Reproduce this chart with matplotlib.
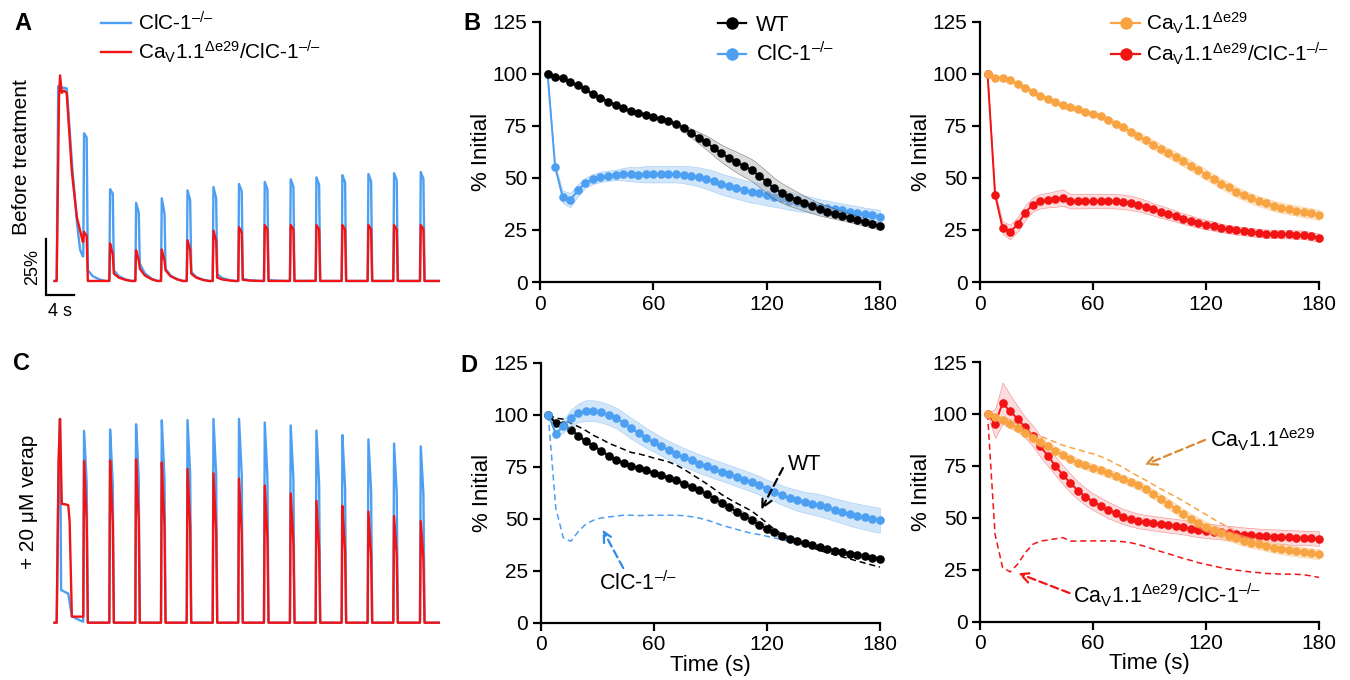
import numpy as np
import matplotlib
matplotlib.use('Agg')
import matplotlib.pyplot as plt
from matplotlib.lines import Line2D

plt.rcParams['font.family'] = ['Liberation Sans', 'DejaVu Sans']
plt.rcParams['mathtext.fontset'] = 'custom'
plt.rcParams['mathtext.rm'] = 'Liberation Sans'
plt.rcParams['mathtext.it'] = 'Liberation Sans:italic'
plt.rcParams['mathtext.bf'] = 'Liberation Sans:bold'

BLUE = '#4d9ff2'
RED = '#f21414'
ORANGE = '#f9a442'
BLACK = '#000000'

LBL_CLC = 'ClC-1$^{\u2013/\u2013}$'
LBL_CAV = 'Ca$_\\mathrm{V}$1.1$^{\\Delta\\mathrm{e29}}$'
LBL_CAVCLC = LBL_CAV + '/ClC-1$^{\u2013/\u2013}$'

# time points (s) for the fatigue curves
time = np.arange(4, 181, 4)

# ---- B: before treatment, % initial force ----
b_wt = [100, 98.5, 98, 96, 94.4, 92.5, 90.2, 88.5, 86.5, 85, 83.5, 82, 81.3, 80.4, 79.3,
        78.4, 77.4, 75.9, 73.9, 71.6, 69.3, 67, 64.4, 61.8, 59.6, 57.6, 55.7, 53.8, 51, 48,
        45, 42.8, 41, 39.4, 37.8, 36.3, 34.9, 33.8, 32.8, 31.8, 30.8, 29.8, 28.8, 27.8, 26.9]
b_wt_sem = [0.5, 0.8, 0.8, 0.8, 0.8, 0.8, 0.8, 0.8, 0.8, 0.8, 0.8, 0.8, 0.8, 0.8, 0.8,
            0.8, 0.9, 1.0, 1.5, 2.2, 2.8, 3.3, 3.8, 4.2, 4.6, 5, 5.2, 5.3, 5.3, 5.2,
            5, 4.7, 4.4, 4, 3.6, 3.3, 3, 2.7, 2.5, 2.3, 2.1, 2, 1.9, 1.8, 1.8]
b_clc = [100, 55.3, 40.9, 39.3, 44, 47.6, 49.4, 50.5, 51, 51.4, 51.8, 51.8, 51.6, 51.8, 51.8,
         51.8, 51.8, 51.8, 51.6, 51.1, 50.5, 49.5, 48.4, 47, 46, 45, 44, 43.1, 42.5, 41.7,
         40.9, 40.1, 39, 38.3, 37.6, 36.9, 36.2, 35.6, 35, 34.4, 33.8, 33.2, 32.5, 32, 31.4]
b_clc_sem = [0.5, 1, 3, 3.5, 3, 2.5, 2.5, 2.5, 2.5, 2.5, 3, 3.5, 3.5, 4, 4,
             4, 4, 4, 4.2, 4.4, 4.6, 4.8, 5, 5, 5, 5, 5, 5, 5, 5,
             4.8, 4.6, 4.4, 4.2, 4, 3.8, 3.6, 3.5, 3.4, 3.3, 3.3, 3.2, 3.2, 3.2, 3.2]
b_cav = [100, 98, 98.2, 97, 95, 93.3, 91.3, 89.4, 87.8, 86.4, 84.9, 83.8, 82.9, 81.7, 80.8,
         79.5, 78, 76.1, 74.2, 72.1, 70, 68.1, 66, 63.9, 62, 60.1, 58, 55.9, 53.7, 51.6,
         49.4, 47.3, 45.4, 43.4, 41.7, 40.1, 38.8, 37.7, 36.5, 35.7, 34.9, 34.3, 33.5, 32.9, 32.1]
b_cav_sem = [0.5, 1, 1, 1, 1, 1, 1, 1, 1, 1, 1.2, 1.2, 1.2, 1.2, 1.2,
             1.3, 1.4, 1.5, 1.6, 1.8, 2, 2, 2.2, 2.3, 2.4, 2.5, 2.5, 2.5, 2.5, 2.5,
             2.5, 2.5, 2.5, 2.5, 2.5, 2.5, 2.5, 2.5, 2.5, 2.5, 2.5, 2.5, 2.5, 2.5, 2.5]
b_cavclc = [100, 42, 26.1, 24, 27.7, 33.2, 37.2, 38.8, 39.3, 39.9, 40.5, 38.8, 38.8, 38.9, 38.9,
            38.9, 38.9, 38.8, 38.5, 38, 37.2, 36.1, 34.9, 33.8, 32.7, 31.6, 30.4, 29.5, 28.4, 27.6,
            26.8, 26, 25.3, 24.8, 24.4, 23.9, 23.6, 23.2, 23.1, 22.9, 22.9, 22.8, 22.6, 22, 21.3]
b_cavclc_sem = [0.5, 1, 3, 3.5, 3.5, 3.5, 3.5, 3.5, 3.5, 3.8, 4, 3.5, 3.5, 3.5, 3.5,
                3.5, 3.5, 3.5, 3.5, 3.5, 3.3, 3.2, 3, 3, 2.8, 2.7, 2.6, 2.5, 2.4, 2.3,
                2.2, 2, 2, 2, 2, 2, 2, 2, 2, 2, 2, 2, 2, 2, 2]

# ---- D: + 20 uM verapamil ----
d_wt = [100, 96.2, 95, 93, 90, 87.3, 85, 82.9, 80.4, 78.5, 76.9, 75.6, 74.5, 73.4, 72.1,
        71, 69.9, 68.6, 67, 65.4, 63.8, 61.9, 59.8, 57.7, 55.6, 53.5, 51.6, 49.4, 47.3, 45.4,
        43.6, 42, 40.5, 39.3, 38.3, 37.3, 36.5, 35.6, 34.8, 34.1, 33.3, 32.7, 32.1, 31.4, 30.8]
d_wt_sem = [0.5, 0.8, 0.8, 0.8, 0.8, 0.8, 0.8, 0.8, 0.8, 0.8, 0.8, 0.8, 0.8, 0.8, 0.8,
            0.8, 0.8, 0.9, 1, 1.1, 1.2, 1.3, 1.5, 1.6, 1.7, 1.7, 1.7, 1.7, 1.6, 1.5,
            1.4, 1.3, 1.2, 1.1, 1, 1, 1, 1, 1, 1, 1, 1, 1, 1, 1]
d_clc = [100, 91, 94.6, 98.6, 101, 102.1, 102.1, 101.4, 100.2, 98.6, 96.2, 93.6, 91.3, 88.9, 87,
         84.9, 83, 81.3, 79.6, 78.2, 76.6, 75.3, 74, 72.8, 71.5, 70.2, 68.9, 67.6, 66.2, 64.4,
         63, 61.5, 60.1, 59, 58, 57.4, 56.6, 55.6, 54.5, 53.5, 52.4, 51.6, 50.8, 50, 49.4]
d_clc_sem = [0.5, 1.5, 3, 4, 4.5, 5, 5, 5, 5, 5, 5, 5, 5, 4.8, 4.6,
             4.5, 4.5, 4.5, 4.5, 4.5, 4.5, 4.5, 4.5, 4.5, 4.5, 4.5, 4.5, 4.5, 4.5, 4.5,
             4.6, 4.7, 4.8, 5, 5, 5.2, 5.3, 5.4, 5.5, 5.6, 5.7, 5.8, 5.9, 6, 6]
d_cav = [100, 98.5, 97.2, 95.3, 93.2, 90.8, 88.4, 86.3, 84.4, 82.4, 80.3, 78.4, 76.6, 75.2, 73.9,
         72.8, 71.5, 70.2, 68.8, 67.2, 65.6, 63.8, 61.5, 59.1, 56.7, 54.3, 51.9, 49.6, 47.7, 45.8,
         44.2, 42.6, 41.3, 40.2, 39, 38.1, 37.3, 36.5, 35.7, 35, 34.4, 33.9, 33.4, 32.9, 32.5]
d_cav_sem = [0.5, 1, 1.5, 2, 2, 2, 2, 2, 2, 2, 2, 2, 2, 2, 2,
             2, 2, 2, 2, 2, 2, 2, 2.2, 2.3, 2.4, 2.5, 2.5, 2.5, 2.5, 2.5,
             2.5, 2.5, 2.5, 2.5, 2.5, 2.5, 2.5, 2.5, 2.5, 2.5, 2.5, 2.5, 2.5, 2.5, 2.5]
d_cavclc = [100, 95.3, 105.2, 101.2, 97.7, 93.5, 89.5, 84.4, 79.9, 75, 70.7, 66.7, 63.1, 60.2, 57.8,
            55.8, 53.8, 52.2, 50.6, 49.5, 48.5, 47.9, 47.4, 46.9, 46.4, 46, 45.5, 44.8, 44.2, 43.7,
            43.4, 43.1, 42.6, 42.3, 41.9, 41.6, 41.3, 41.1, 41, 40.8, 40.6, 40.5, 40.3, 40.2, 40]
d_cavclc_sem = [0.5, 7, 10, 8, 6, 5, 5, 5, 5, 4.5, 4.5, 4.5, 4.3, 4.2, 4,
                4, 4, 3.8, 3.7, 3.6, 3.5, 3.5, 3.5, 3.5, 3.5, 3.5, 3.5, 3.5, 3.5, 3.5,
                3.5, 3.5, 3.5, 3.5, 3.5, 3.5, 3.5, 3.5, 3.5, 3.5, 3.5, 3.5, 3.5, 3.5, 3.5]

# ---- A / C: force traces (% of scale), 15 stimulations ----
onsets = [0, 3.69, 7.31, 10.92, 14.49, 18.06, 21.67, 25.22, 28.79, 32.40,
          35.97, 39.58, 43.19, 46.75, 50.46]

# first (long) contraction as time/value keypoints, relative to the first onset
a_blue_first_t = [0, 0.2, 0.5, 1.39, 2.08, 2.78, 3.24, 3.6]
a_blue_first_v = [0, 87, 86.5, 86, 54, 27, 14, 11]
a_red_first_t = [0, 0.3, 0.46, 0.7, 1.0, 1.39, 2.08, 2.78, 3.24, 3.6]
a_red_first_v = [0, 80, 92, 84, 85, 84, 49.5, 28.7, 22.8, 17.5]
# later contractions: peak, end of plateau, residual after relaxation
a_blue_peak = [66, 41, 35, 37, 40.6, 42, 43.3, 44.3, 45.4, 46.3, 47.2, 47.8, 48.2, 48.7]
a_blue_shoulder = [64, 39, 30.5, 30.5, 36, 37, 40, 41, 42, 43, 44, 44.5, 45, 45.5]
a_blue_tail = [4.8, 4.8, 7.7, 5.5, 4, 3, 1, 0.5, 0, 0, 0, 0, 0, 0]
a_red_peak = [22, 16.8, 13.8, 14.1, 18.3, 22.5, 24, 25, 25, 25, 25, 25, 25, 25]
a_red_shoulder = [20, 12, 9.2, 9.2, 13.8, 18, 21.5, 23, 23, 23, 23, 23, 23, 23]
a_red_tail = [0, 3.3, 5.5, 4.8, 3.3, 1.5, 0.5, 0, 0, 0, 0, 0, 0, 0]

c_blue_first_t = [0, 0.25, 0.46, 0.6, 1.6, 1.75, 2.1, 2.6, 3.3, 3.6]
c_blue_first_v = [0, 70, 91.7, 14.6, 13, 10, 3, 2, 1, 0.5]
c_red_first_t = [0, 0.25, 0.46, 0.7, 1.0, 1.6, 1.8, 2.1, 3.5]
c_red_first_v = [0, 70, 91.7, 53, 53, 52.5, 45, 2.7, 2.7]
c_blue_peak = [86.3, 86.7, 89.2, 90.7, 91.2, 91.2, 91.2, 90.0, 88.2, 86.3, 83.8, 82.3, 80.5, 79.3]
c_blue_shoulder = [62, 62, 64, 65, 66, 66, 66, 65, 64, 62, 60, 59, 58, 57]
c_red_peak = [72.9, 72.9, 73.4, 71.9, 69.4, 67.0, 64.5, 61.8, 57.8, 54.8, 52.2, 49.9, 48.1, 45.8]
c_red_shoulder = [45, 45, 45, 44, 43, 41, 40, 38, 36, 34, 32, 31, 30, 28]


def build_trace(first_t, first_v, peaks, shoulders, tails=None):
    ts = list(first_t)
    vs = list(first_v)
    if tails is None:
        tails = [0] * len(peaks)
    for on, p, s, tl in zip(onsets[1:], peaks, shoulders, tails):
        ts += [on, on + 0.1, on + 0.48, on + 0.62, on + 1.3, on + 2.2, on + 3.0]
        vs += [vs[-1], p, s, tl, tl * 0.45, tl * 0.15, 0]
    x = np.linspace(-0.3, onsets[-1] + 3.0, 4000)
    return x, np.interp(x, ts, vs)


fig = plt.figure(figsize=(13.5, 6.8), dpi=100)


def fx(px):
    return px / 1350


def fy(py):
    return 1 - py / 680


# ---- trace panels ----
ax_a = fig.add_axes([fx(45), fy(300), fx(395), 240 / 680])
ax_c = fig.add_axes([fx(45), fy(640), fx(395), 240 / 680])
for ax in (ax_a, ax_c):
    ax.axis('off')
    ax.set_xlim(-1.625, 53.24)

ax_a.set_ylim(-8.5, 98.66)
ax_c.set_ylim(-7.72, 99.42)

xb, yb = build_trace(a_blue_first_t, a_blue_first_v, a_blue_peak, a_blue_shoulder, a_blue_tail)
xr, yr = build_trace(a_red_first_t, a_red_first_v, a_red_peak, a_red_shoulder, a_red_tail)
ax_a.plot(xb, yb, color=BLUE, lw=1.7, label=LBL_CLC)
ax_a.plot(xr, yr, color=RED, lw=1.7, label=LBL_CAVCLC)

xb, yb = build_trace(c_blue_first_t, c_blue_first_v, c_blue_peak, c_blue_shoulder)
xr, yr = build_trace(c_red_first_t, c_red_first_v, c_red_peak, c_red_shoulder)
ax_c.plot(xb, yb, color=BLUE, lw=1.7)
ax_c.plot(xr, yr, color=RED, lw=1.7)

# scale bar 4 s / 25 %
ax_a.plot([-1.5, -1.5, 2.4], [18.75, -6.25, -6.25], color='black', lw=1.6,
          clip_on=False, solid_joinstyle='miter')
ax_a.text(-3.4, 6.25, '25%', rotation=90, ha='center', va='center', fontsize=13)
ax_a.text(0.4, -13.5, '4 s', ha='center', va='center', fontsize=13, clip_on=False)

ax_a.legend(loc='upper left', bbox_to_anchor=(fx(101), fy(11)), bbox_transform=fig.transFigure,
            frameon=False, fontsize=15, handlelength=1.45, handletextpad=0.35,
            labelspacing=0.2, borderpad=0, borderaxespad=0)

fig.text(fx(22), fy(157), 'Before treatment', rotation=90, ha='center', va='center', fontsize=15)
fig.text(fx(28), fy(502), '+ 20 \u03bcM verap', rotation=90, ha='center', va='center', fontsize=15)

# ---- fatigue panels ----
ax_b1 = fig.add_axes([fx(540), fy(282), fx(340), 260.3 / 680])
ax_b2 = fig.add_axes([fx(980), fy(282), fx(339), 260.3 / 680])
ax_d1 = fig.add_axes([fx(540.7), fy(623), fx(339.3), 260 / 680])
ax_d2 = fig.add_axes([fx(980), fy(621.7), fx(339), 259.7 / 680])


def style(ax, xlabel=False):
    ax.set_xlim(0, 180)
    ax.set_ylim(0, 125)
    ax.set_xticks([0, 60, 120, 180])
    ax.set_yticks([0, 25, 50, 75, 100, 125])
    for s in ('top', 'right'):
        ax.spines[s].set_visible(False)
    for s in ('left', 'bottom'):
        ax.spines[s].set_linewidth(1.6)
    ax.tick_params(direction='out', length=6, width=1.6, labelsize=15, pad=3)
    ax.set_ylabel('% Initial', fontsize=16, labelpad=0)
    if xlabel:
        ax.set_xlabel('Time (s)', fontsize=16, labelpad=0)


def curve(ax, y, sem, color, band, label=None, z=3):
    y = np.asarray(y)
    sem = np.asarray(sem)
    ax.fill_between(time, y - sem, y + sem, facecolor=band, edgecolor=color,
                    linewidth=0.4, alpha=0.45, zorder=z - 1, clip_on=False)
    ax.plot(time, y, color=color, lw=1.4, marker='o', markersize=6.2, markeredgewidth=0,
            label=label, zorder=z, clip_on=False)


for ax in (ax_b1, ax_b2):
    style(ax)
for ax in (ax_d1, ax_d2):
    style(ax, xlabel=True)

curve(ax_b1, b_clc, b_clc_sem, BLUE, '#9cc8f5', z=3)
curve(ax_b1, b_wt, b_wt_sem, BLACK, '#b0b0b0', z=5)
curve(ax_b2, b_cav, b_cav_sem, ORANGE, '#fbcf9c', z=5)
curve(ax_b2, b_cavclc, b_cavclc_sem, RED, '#f7b0b0', z=3)

# D: dashed lines repeat the untreated means
ax_d1.plot(time, b_wt, color=BLACK, lw=1.1, ls=(0, (4, 2.5)), zorder=2)
ax_d1.plot(time, b_clc, color=BLUE, lw=1.1, ls=(0, (4, 2.5)), zorder=2)
curve(ax_d1, d_wt, d_wt_sem, BLACK, '#b0b0b0', z=4)
curve(ax_d1, d_clc, d_clc_sem, BLUE, '#9cc8f5', z=6)

ax_d2.plot(time, b_cav, color=ORANGE, lw=1.1, ls=(0, (4, 2.5)), zorder=2)
ax_d2.plot(time, b_cavclc, color=RED, lw=1.1, ls=(0, (4, 2.5)), zorder=2)
curve(ax_d2, d_cavclc, d_cavclc_sem, RED, '#f7b0b0', z=4)
curve(ax_d2, d_cav, d_cav_sem, ORANGE, '#fbcf9c', z=6)

# legends for B
h_wt = Line2D([], [], color=BLACK, lw=1.6, marker='o', markersize=9, markeredgewidth=0)
h_clc = Line2D([], [], color=BLUE, lw=1.6, marker='o', markersize=9, markeredgewidth=0)
h_cav = Line2D([], [], color=ORANGE, lw=1.6, marker='o', markersize=9, markeredgewidth=0)
h_cavclc = Line2D([], [], color=RED, lw=1.6, marker='o', markersize=9, markeredgewidth=0)
ax_b1.legend([h_wt, h_clc], ['WT', LBL_CLC], loc='upper left',
             bbox_to_anchor=(fx(718), fy(15)), bbox_transform=fig.transFigure,
             frameon=False, fontsize=15.5, handlelength=1.3, handletextpad=0.45,
             labelspacing=0.3, borderpad=0, borderaxespad=0)
ax_b2.legend([h_cav, h_cavclc], [LBL_CAV, LBL_CAVCLC], loc='upper left',
             bbox_to_anchor=(fx(1111), fy(11)), bbox_transform=fig.transFigure,
             frameon=False, fontsize=15, handlelength=1.4, handletextpad=0.3,
             labelspacing=0.2, borderpad=0, borderaxespad=0)

# annotations in D
def dashed_arrow(ax, xy, xytext, color):
    ax.annotate('', xy=xy, xytext=xytext,
                arrowprops=dict(arrowstyle='->', color=color, lw=1.6,
                                linestyle=(0, (3.5, 2)), mutation_scale=18,
                                shrinkA=0, shrinkB=0), zorder=8)


dashed_arrow(ax_d1, (117, 54.5), (128.5, 74.5), BLACK)
ax_d1.text(140.2, 76, 'WT', ha='center', va='center', fontsize=15.5)
dashed_arrow(ax_d1, (32.8, 44.9), (43.8, 26.4), '#2f8ae8')
ax_d1.text(51.6, 19.2, LBL_CLC, ha='center', va='center', fontsize=15.5)

dashed_arrow(ax_d2, (87.5, 75.5), (119.5, 87.5), '#d98a30')
ax_d2.text(122.1, 87.4, LBL_CAV, ha='left', va='center', fontsize=15.5)
dashed_arrow(ax_d2, (20.3, 23.3), (47.5, 13.8), RED)
ax_d2.text(49.4, 12.8, LBL_CAVCLC, ha='left', va='center', fontsize=15.5)

# panel letters
for lbl, px, py in (('A', 22.5, 24), ('B', 472, 24), ('C', 21, 364), ('D', 469, 365)):
    fig.text(fx(px), fy(py), lbl, ha='center', va='center', fontsize=17, fontweight='bold')

fig.savefig('out.png', dpi=100)
